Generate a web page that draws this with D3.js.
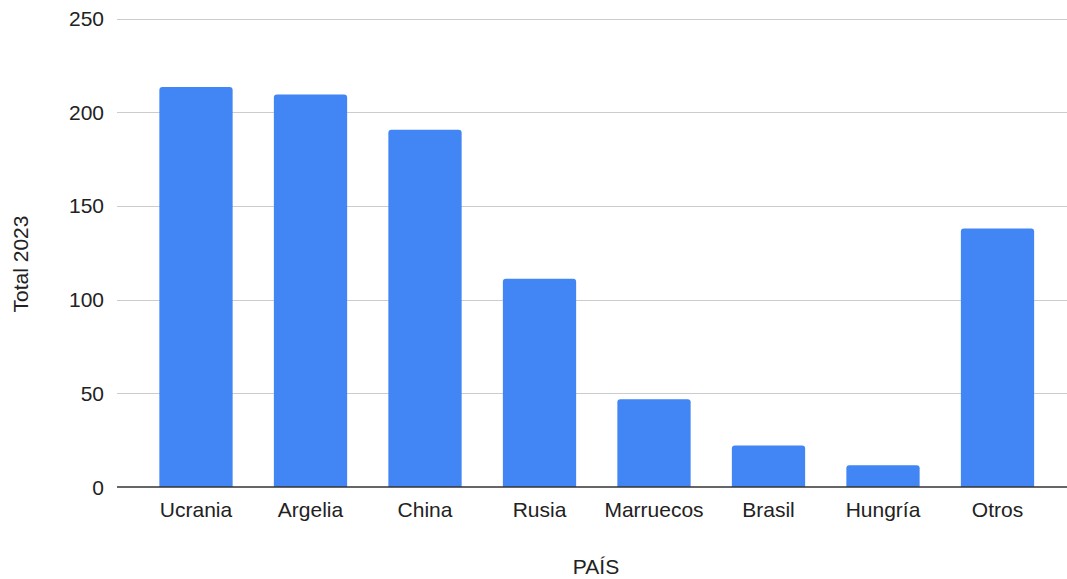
<!DOCTYPE html>
<html>
<head>
<meta charset="utf-8">
<script src="https://cdn.jsdelivr.net/npm/d3@7"></script>
<style>
  html, body { margin: 0; padding: 0; background: #fff; }
  svg { display: block; }
  text { font-family: "Liberation Sans", Arial, sans-serif; fill: #222; }
</style>
</head>
<body>
<svg id="chart" width="1067" height="579"></svg>
<script>
const categories = ["Ucrania", "Argelia", "China", "Rusia", "Marruecos", "Brasil", "Hungría", "Otros"];
const values = [213.5, 209.5, 190.7, 111.1, 46.8, 22.2, 11.6, 138];
const yTicks = [0, 50, 100, 150, 200, 250];
const xTitle = "PAÍS";
const yTitle = "Total 2023";

const svg = d3.select("#chart");
const W = 1067, H = 579;
const gridLeft = 117, gridRight = 1067;
const plotTop = 18.5, plotBottom = 487;

const x = d3.scaleBand()
  .domain(categories)
  .range([138.75, 1054.75])
  .paddingInner(0.36)
  .paddingOuter(0.18);

const y = d3.scaleLinear().domain([0, 250]).range([plotBottom, plotTop]);

// gridlines
svg.append("g").selectAll("line")
  .data(yTicks.filter(d => d !== 0))
  .join("line")
  .attr("x1", gridLeft).attr("x2", gridRight)
  .attr("y1", d => Math.round(y(d)) + 0.5).attr("y2", d => Math.round(y(d)) + 0.5)
  .attr("stroke", "#cccccc").attr("stroke-width", 1);

// y tick labels
svg.append("g").selectAll("text")
  .data(yTicks)
  .join("text")
  .attr("x", 104)
  .attr("y", d => y(d))
  .attr("dy", "0.36em")
  .attr("text-anchor", "end")
  .attr("font-size", 21)
  .style("fill", "#222")
  .text(d => d);

// bars with rounded top corners
const r = 3;
svg.append("g").selectAll("path")
  .data(categories.map((c, i) => ({ c, v: values[i] })))
  .join("path")
  .attr("fill", "#4285F4")
  .attr("d", d => {
    const x0 = x(d.c), x1 = x0 + x.bandwidth();
    const yt = y(d.v), yb = y(0);
    return `M${x0},${yb} L${x0},${yt + r} Q${x0},${yt} ${x0 + r},${yt} L${x1 - r},${yt} Q${x1},${yt} ${x1},${yt + r} L${x1},${yb} Z`;
  });

// baseline
svg.append("line")
  .attr("x1", gridLeft).attr("x2", gridRight)
  .attr("y1", plotBottom).attr("y2", plotBottom)
  .attr("stroke", "#333").attr("stroke-width", 1.5);

// x labels
svg.append("g").selectAll("text")
  .data(categories)
  .join("text")
  .attr("x", d => x(d) + x.bandwidth() / 2)
  .attr("y", 517)
  .attr("text-anchor", "middle")
  .attr("font-size", 21)
  .style("fill", "#222")
  .text(d => d);

// axis titles
svg.append("text")
  .attr("x", 596).attr("y", 574)
  .attr("text-anchor", "middle")
  .attr("font-size", 21)
  .style("fill", "#222")
  .text(xTitle);

svg.append("text")
  .attr("transform", "translate(28,264) rotate(-90)")
  .attr("text-anchor", "middle")
  .attr("font-size", 21)
  .style("fill", "#222")
  .text(yTitle);
</script>
</body>
</html>
